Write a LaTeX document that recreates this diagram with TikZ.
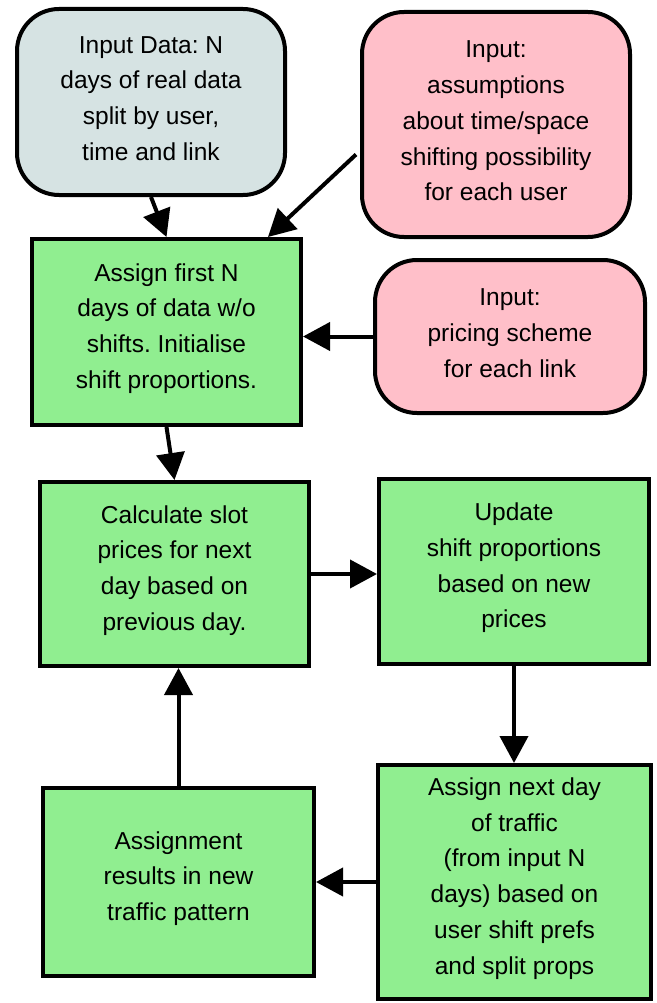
\documentclass[tikz,border=0pt]{standalone}
\usepackage{fontspec}
\setmainfont{Liberation Sans}
\usetikzlibrary{arrows.meta}
\definecolor{inblue}{HTML}{D6E3E3}
\definecolor{inpink}{HTML}{FFBFC9}
\definecolor{stepgreen}{HTML}{90EE90}
\frenchspacing
\begin{document}
\begin{tikzpicture}[x=1pt,y=-1pt,
  every node/.style={font=\fontsize{24.5pt}{35.75pt}\selectfont\frenchspacing, align=center, inner sep=0pt},
  txt/.style={label={[yshift=3.5pt]center:{#1}}},
  inputbox/.style={draw=black, line width=4pt, rounded corners=42pt},
  stepbox/.style={draw=black, line width=4pt, fill=stepgreen},
  conn/.style={line width=4pt, -{Triangle[length=27pt,width=28pt]}}]
\useasboundingbox (0,0) rectangle (656,1003);
\node[inputbox, fill=inblue, minimum width=268pt, minimum height=186pt,
  txt={Input Data: N\\days of real data\\split by user,\\time and link}] (A) at (151,102) {};
\node[inputbox, fill=inpink, minimum width=268pt, minimum height=225pt,
  txt={Input:\\assumptions\\about time/space\\shifting possibility\\for each user}] (B) at (496,124.5) {};
\node[stepbox, minimum width=269pt, minimum height=186pt,
  txt={Assign first N\\days of data w/o\\shifts. Initialise\\shift proportions.}] (C) at (166.5,332) {};
\node[inputbox, fill=inpink, minimum width=270pt, minimum height=153pt,
  txt={Input:\\pricing scheme\\for each link}] (D) at (510,336.5) {};
\node[stepbox, minimum width=269pt, minimum height=184pt,
  txt={Calculate slot\\prices for next\\day based on\\previous day.}] (E) at (174.5,574) {};
\node[stepbox, minimum width=270pt, minimum height=185pt,
  txt={Update\\shift proportions\\based on new\\prices}] (F) at (514,571.5) {};
\node[stepbox, minimum width=273pt, minimum height=234pt,
  txt={Assign next day\\of traffic\\(from input N\\days) based on\\user shift prefs\\and split props}] (G) at (514.5,882) {};
\node[stepbox, minimum width=271pt, minimum height=188pt,
  txt={Assignment\\results in new\\traffic pattern}] (H) at (178.5,882) {};
\draw[conn] (A.south) -- (C.north);
\draw[conn] ([xshift=-4pt,yshift=-30pt]B.west) -- ([xshift=-35pt]C.north east);
\draw[conn] (D.west) -- (C.east |- D.west);
\draw[conn] (C.south) -- (E.north);
\draw[conn] (E.east) -- (E.east -| F.west);
\draw[conn] (F.south) -- (F.south |- G.north);
\draw[conn] (G.west) -- (G.west -| H.east);
\draw[conn] (H.north) -- (H.north |- E.south);
\end{tikzpicture}
\end{document}
